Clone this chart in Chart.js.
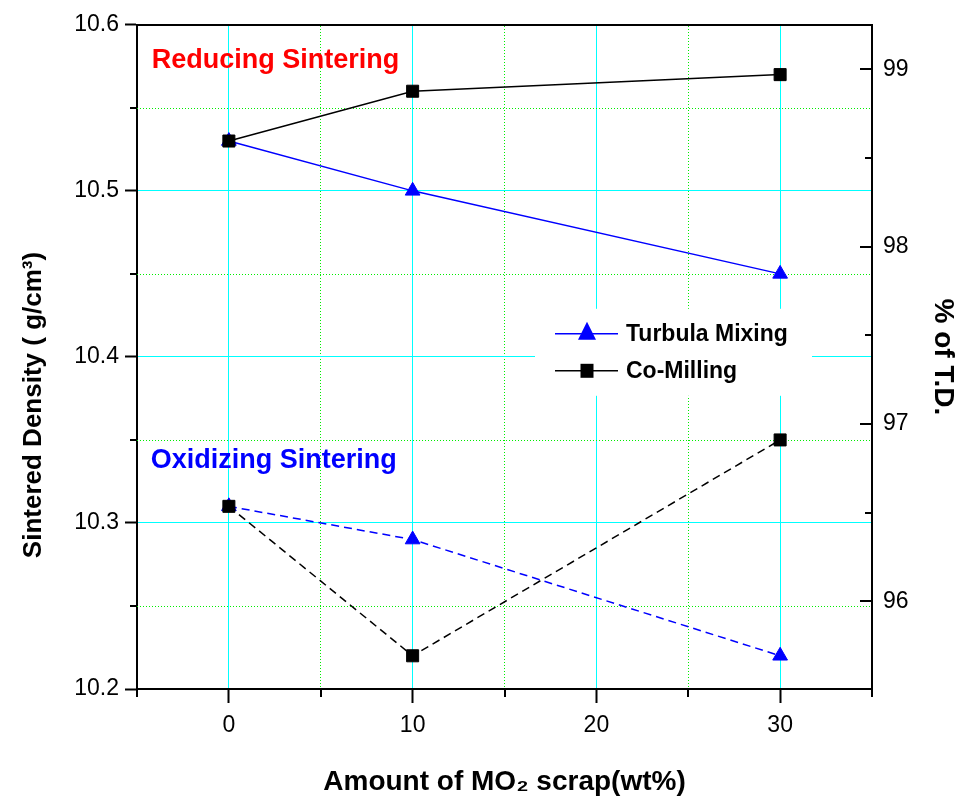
<!DOCTYPE html>
<html><head><meta charset="utf-8">
<script src="https://cdn.jsdelivr.net/npm/chart.js@4/dist/chart.umd.min.js"></script>
<style>html,body{margin:0;padding:0;background:#fff;}canvas{display:block;}</style>
</head><body>
<canvas id="c" width="960" height="811"></canvas>
<script>
// ---- data ----
const X_VALUES = [0, 10, 30];
const REDUCING_TURBULA = [10.53, 10.50, 10.45];
const REDUCING_COMILL = [10.53, 10.56, 10.57];
const OXIDIZING_TURBULA = [10.31, 10.29, 10.22];
const OXIDIZING_COMILL = [10.31, 10.22, 10.35];
const SERIES_NAMES = ['Turbula Mixing', 'Co-Milling'];
const X_TICKS = [0, 10, 20, 30];
const X_MINOR_TICKS = [-5, 5, 15, 25, 35];
const Y_TICKS = [10.2, 10.3, 10.4, 10.5, 10.6];
const Y_MINOR_TICKS = [10.25, 10.35, 10.45, 10.55];
const Y2_TICKS = [96, 97, 98, 99];
const Y2_MINOR_TICKS = [96.5, 97.5, 98.5];
const X_RANGE = [-5, 35];
const Y_RANGE = [10.2, 10.6];
const THEORETICAL_DENSITY = 10.68;
const X_TITLE = 'Amount of MO\u2082 scrap(wt%)';
const Y_TITLE = 'Sintered Density ( g/cm\u00B3)';
const Y2_TITLE = '% of T.D.';
const ANNOTATIONS = [
  {text: 'Reducing Sintering', x: -4.2, y: 10.574, color: '#FF0000'},
  {text: 'Oxidizing Sintering', x: -4.25, y: 10.333, color: '#0000FF'}
];

// ---- styles ----
const FONT = "'Liberation Sans', Arial, Helvetica, sans-serif";
const CYAN = '#00FFFF';
const GREEN = '#00EE00';
const BLUE = '#0000FF';
const BLACK = '#000000';

const pts = arr => X_VALUES.map((x, i) => ({x: x, y: arr[i]}));
const mkTicks = list => axis => { axis.ticks = list.map(v => ({value: v})); };
const edgeTransparent = (lo, hi, col) => ctx => (ctx.tick && (ctx.tick.value === lo || ctx.tick.value === hi)) ? 'rgba(0,0,0,0)' : col;

function line(ctx, x1, y1, x2, y2, w, c, dash) {
  ctx.save(); ctx.lineWidth = w; ctx.strokeStyle = c; ctx.setLineDash(dash || []); ctx.beginPath();
  ctx.moveTo(x1, y1); ctx.lineTo(x2, y2); ctx.stroke(); ctx.restore();
}

const extras = {
  id: 'extras',
  beforeDatasetsDraw(chart) {
    const {ctx, chartArea: a, scales} = chart;
    // minor horizontal grid (dotted green)
    Y_MINOR_TICKS.forEach(v => {
      const p = Math.round(scales.y.getPixelForValue(v)) + 0.5;
      line(ctx, a.left, p, a.right, p, 1, GREEN, [1, 2]);
    });
    // legend background
    ctx.save();
    ctx.fillStyle = '#fff';
    ctx.fillRect(a.left + 398, a.top + 284, 277, 87);
    ctx.restore();
  },
  afterDraw(chart) {
    const {ctx, chartArea: a, scales} = chart;
    X_MINOR_TICKS.forEach(v => { const p = Math.round(scales.x.getPixelForValue(v)); line(ctx, p, a.bottom, p, a.bottom + 8, 2, BLACK); });
    Y_MINOR_TICKS.forEach(v => { const p = Math.round(scales.y.getPixelForValue(v)); line(ctx, a.left - 7, p, a.left, p, 2, BLACK); });
    Y2_TICKS.forEach(v => { const p = Math.round(scales.y2.getPixelForValue(v)); line(ctx, a.right - 12, p, a.right, p, 2, BLACK); });
    Y2_MINOR_TICKS.forEach(v => { const p = Math.round(scales.y2.getPixelForValue(v)); line(ctx, a.right - 7, p, a.right, p, 2, BLACK); });
    // left axis title
    ctx.save();
    ctx.translate(34, 405);
    ctx.rotate(-Math.PI / 2);
    ctx.font = "bold 26px " + FONT;
    ctx.fillStyle = BLACK; ctx.textAlign = 'center'; ctx.textBaseline = 'middle';
    ctx.fillText(Y_TITLE, 0, 0);
    ctx.restore();
    // annotations
    ANNOTATIONS.forEach(t => {
      ctx.save();
      ctx.font = "bold 27px " + FONT;
      ctx.fillStyle = t.color; ctx.textAlign = 'left'; ctx.textBaseline = 'alphabetic';
      ctx.fillText(t.text, scales.x.getPixelForValue(t.x), scales.y.getPixelForValue(t.y));
      ctx.restore();
    });
    // legend entries
    const lx = a.left + 418, ly = a.top + 309;
    const entries = [
      {name: SERIES_NAMES[0], color: BLUE, style: 'triangle'},
      {name: SERIES_NAMES[1], color: BLACK, style: 'rect'}
    ];
    entries.forEach((e, i) => {
      const y = ly + i * 37;
      line(ctx, lx, y, lx + 63, y, 1.5, e.color);
      const cx = lx + 32;
      ctx.save(); ctx.fillStyle = e.color; ctx.beginPath();
      if (e.style === 'triangle') {
        ctx.moveTo(cx, y - 12); ctx.lineTo(cx + 9, y + 6); ctx.lineTo(cx - 9, y + 6); ctx.closePath();
      } else {
        ctx.rect(cx - 6.5, y - 7, 13, 14);
      }
      ctx.fill(); ctx.restore();
      ctx.save();
      ctx.font = "bold 23px " + FONT; ctx.fillStyle = BLACK;
      ctx.textAlign = 'left'; ctx.textBaseline = 'middle';
      ctx.fillText(e.name, lx + 71, y + 1);
      ctx.restore();
    });
  }
};

const commonLine = {fill: false, tension: 0, borderWidth: 1.5, pointRadius: 8.5, pointHoverRadius: 8.5, pointBorderWidth: 1};

new Chart(document.getElementById('c'), {
  type: 'line',
  data: {
    datasets: [
      Object.assign({label: SERIES_NAMES[1], data: pts(REDUCING_COMILL), borderColor: BLACK, backgroundColor: BLACK, pointStyle: 'rect'}, commonLine),
      Object.assign({label: SERIES_NAMES[1], data: pts(OXIDIZING_COMILL), borderColor: BLACK, backgroundColor: BLACK, pointStyle: 'rect', borderDash: [8, 5]}, commonLine),
      Object.assign({label: SERIES_NAMES[0], data: pts(REDUCING_TURBULA), borderColor: BLUE, backgroundColor: BLUE, pointStyle: 'triangle'}, commonLine),
      Object.assign({label: SERIES_NAMES[0], data: pts(OXIDIZING_TURBULA), borderColor: BLUE, backgroundColor: BLUE, pointStyle: 'triangle', borderDash: [8, 5]}, commonLine)
    ]
  },
  options: {
    responsive: false,
    animation: false,
    devicePixelRatio: 1,
    layout: {padding: 0},
    plugins: {legend: {display: false}, tooltip: {enabled: false}},
    events: [],
    scales: {
      x: {
        type: 'linear', position: 'bottom', min: X_RANGE[0], max: X_RANGE[1],
        afterBuildTicks: mkTicks(X_TICKS),
        afterFit: s => { s.height = 122; },
        grid: {color: CYAN, lineWidth: 1, tickColor: BLACK, tickLength: 14, tickWidth: 2},
        border: {color: BLACK, width: 2},
        ticks: {font: {family: FONT, size: 23}, color: BLACK, padding: 9, maxRotation: 0, autoSkip: false, callback: v => String(v)},
        title: {display: true, text: X_TITLE, color: BLACK, font: {family: FONT, size: 28, weight: 'bold'}, padding: {top: 0, bottom: 12}}
      },
      xMinor: {
        type: 'linear', position: 'top', min: X_RANGE[0], max: X_RANGE[1],
        afterBuildTicks: mkTicks([5, 15, 25]),
        afterFit: s => { s.height = 24; },
        grid: {color: GREEN, lineWidth: 1, drawTicks: false},
        border: {color: BLACK, width: 2, dash: [1, 2]},
        ticks: {display: false}
      },
      y: {
        type: 'linear', position: 'left', min: Y_RANGE[0], max: Y_RANGE[1],
        afterBuildTicks: mkTicks(Y_TICKS),
        afterFit: s => { s.width = 137; },
        grid: {color: edgeTransparent(Y_RANGE[0], Y_RANGE[1], CYAN), lineWidth: 1, tickColor: BLACK, tickLength: 12, tickWidth: 2},
        border: {color: BLACK, width: 2},
        ticks: {font: {family: FONT, size: 23}, color: BLACK, padding: 6, callback: v => Number(v).toFixed(1)}
      },
      y2: {
        type: 'linear', position: 'right',
        min: Y_RANGE[0] / THEORETICAL_DENSITY * 100, max: Y_RANGE[1] / THEORETICAL_DENSITY * 100,
        afterBuildTicks: mkTicks(Y2_TICKS),
        afterFit: s => { s.width = 88; },
        grid: {drawOnChartArea: false, drawTicks: false},
        border: {color: BLACK, width: 2},
        ticks: {font: {family: FONT, size: 23}, color: BLACK, padding: 11, callback: v => String(v)},
        title: {display: true, text: Y2_TITLE, color: BLACK, font: {family: FONT, size: 28, weight: 'bold'}, padding: 0}
      }
    }
  },
  plugins: [extras]
});
</script>
</body></html>
